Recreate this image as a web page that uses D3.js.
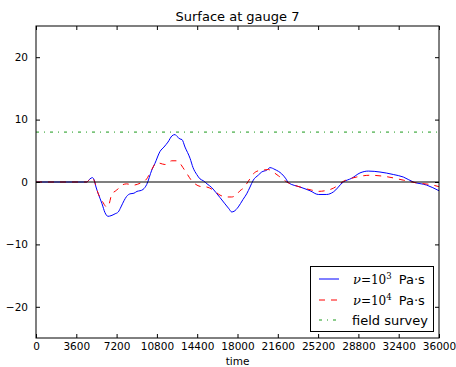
<!DOCTYPE html>
<html>
<head>
<meta charset="utf-8">
<script src="https://cdn.jsdelivr.net/npm/d3@7"></script>
<style>
  html, body { margin: 0; padding: 0; background: #fff; }
  svg { display: block; }
  text { font-family: "DejaVu Sans", sans-serif; fill: #000; }
</style>
</head>
<body>
<svg id="chart" width="456" height="367"></svg>
<script>
// Surface elevation at gauge 7 for two viscosities, plus field survey level
const xTicks = [0, 3600, 7200, 10800, 14400, 18000, 21600, 25200, 28800, 32400, 36000];
const yTicks = [-20, -10, 0, 10, 20];

const timeLow = [0, 4530, 4824, 5030, 5180, 5360, 5565, 5900, 6160, 6430, 6700, 7060, 7350, 7590, 7860, 8100,
  8400, 8750, 9020, 9290, 9560, 9890, 10340, 10630, 11080, 11430, 11790, 12150, 12420, 12600, 12860, 13040,
  13310, 13760, 14030, 14360, 14650, 14950, 15280, 15700, 16080, 16440, 16880, 17240, 17480, 17690, 18070,
  18490, 18820, 19120, 19410, 19860, 20160, 20610, 20900, 21350, 21950, 22330, 22540, 23580, 24480, 25220,
  25970, 26560, 27450, 28200, 28940, 29690, 30730, 31920, 32810, 33700, 34900, 36000];
const etaLow = [0, 0, 0.5, 0.7, 0.4, -0.8, -1.9, -3.5, -4.9, -5.5, -5.4, -5.1, -4.8, -4.0, -3.0, -2.3,
  -1.9, -1.8, -1.5, -1.4, -1.2, -0.4, 1.9, 3.0, 4.9, 5.6, 6.4, 7.4, 7.6, 7.3, 6.9, 6.8,
  5.6, 3.8, 2.3, 1.2, 0.5, 0.2, -0.3, -0.9, -1.7, -2.5, -3.5, -4.3, -4.8, -4.7, -4.0,
  -2.8, -1.9, -0.8, 0.3, 1.1, 1.6, 1.9, 2.3, 2.0, 1.3, 0.5, -0.1, -0.8, -1.4, -2.0,
  -2.0, -1.6, 0.0, 0.6, 1.45, 1.75, 1.6, 1.2, 0.8, 0.0, -0.5, -1.4];

const timeHigh = [0, 4530, 4824, 5030, 5180, 5565, 5900, 6320, 6520, 6760, 7210, 7660, 8100, 8690, 9290,
  9890, 10340, 10780, 11080, 11520, 12120, 12510, 12860, 13130, 13460, 13910, 14290, 14650, 15250, 15840,
  16440, 16970, 17480, 17930, 18220, 18520, 18960, 19410, 19860, 20280, 20750, 21090, 21650, 22400, 23580,
  24630, 25220, 25820, 26560, 27450, 28650, 29840, 31330, 32810, 34010, 35200, 36000];
const etaHigh = [0, 0, 0.5, 0.7, 0.3, -1.9, -3.0, -4.0, -3.6, -2.0, -1.3, -0.5, -0.3, -0.5, -0.2,
  0.5, 2.0, 3.1, 3.0, 2.8, 3.4, 3.4, 3.0, 2.3, 1.4, 0.2, -0.4, -0.7, -0.8, -1.3,
  -2.1, -2.4, -2.4, -2.0, -1.4, -1.0, 0.1, 1.3, 1.8, 1.9, 2.0, 1.7, 1.0, 0.0, -0.8,
  -1.3, -1.5, -1.4, -1.0, 0.1, 0.8, 1.08, 0.85, 0.3, -0.15, -0.4, -0.75];

const surveyLevel = 8;
const timeDomain = [0, 36000];
const etaDomain = [-25, 25];

const svg = d3.select("#chart");
const m = { left: 36, right: 439, top: 26, bottom: 338 };

const x = d3.scaleLinear().domain(timeDomain).range([m.left, m.right]);
const y = d3.scaleLinear().domain(etaDomain).range([m.bottom, m.top]);

svg.append("defs").append("clipPath").attr("id", "clip")
  .append("rect").attr("x", m.left).attr("y", m.top)
  .attr("width", m.right - m.left).attr("height", m.bottom - m.top);

const layer = svg.append("g").attr("clip-path", "url(#clip)");

const line = d3.line().x(d => x(d[0])).y(d => y(d[1])).curve(d3.curveMonotoneX);

layer.append("path")
  .datum(d3.zip(timeLow, etaLow))
  .attr("d", line)
  .attr("fill", "none").attr("stroke", "#0000ff").attr("stroke-width", 1);

layer.append("path")
  .datum(d3.zip(timeHigh, etaHigh))
  .attr("d", line)
  .attr("fill", "none").attr("stroke", "#ff0000").attr("stroke-width", 1)
  .attr("stroke-dasharray", "6,6");

layer.append("line")
  .attr("x1", x(timeDomain[0])).attr("x2", x(timeDomain[1]))
  .attr("y1", y(surveyLevel)).attr("y2", y(surveyLevel))
  .attr("stroke", "#1a9a1a").attr("stroke-width", 1)
  .attr("stroke-dasharray", "3,5,1,5");

// zero reference line
layer.append("line")
  .attr("x1", x(timeDomain[0])).attr("x2", x(timeDomain[1]))
  .attr("y1", y(0)).attr("y2", y(0))
  .attr("stroke", "#000").attr("stroke-opacity", 0.5).attr("stroke-width", 2);

// axes: ticks point inward on all four sides
const tickLen = 4;
const axisBottom = d3.axisBottom(x).tickValues(xTicks).tickSize(-tickLen).tickPadding(5).tickFormat(d3.format("d"));
const axisTop = d3.axisTop(x).tickValues(xTicks).tickSize(-tickLen).tickFormat("");
const axisLeft = d3.axisLeft(y).tickValues(yTicks).tickSize(-tickLen).tickPadding(8)
  .tickFormat(d => d < 0 ? "\u2212" + Math.abs(d) : String(d));
const axisRight = d3.axisRight(y).tickValues(yTicks).tickSize(-tickLen).tickFormat("");

function styleAxis(g) {
  g.select(".domain").remove();
  g.selectAll(".tick line").attr("stroke", "#000").attr("stroke-width", 1);
  g.selectAll(".tick text").attr("font-family", "DejaVu Sans, sans-serif").attr("font-size", 10.5).attr("fill", "#222");
}
svg.append("g").attr("transform", `translate(0,${m.bottom})`).call(axisBottom).call(styleAxis);
svg.append("g").attr("transform", `translate(0,${m.top})`).call(axisTop).call(styleAxis);
svg.append("g").attr("transform", `translate(${m.left},0)`).call(axisLeft).call(styleAxis);
svg.append("g").attr("transform", `translate(${m.right},0)`).call(axisRight).call(styleAxis);

svg.append("rect")
  .attr("x", m.left).attr("y", m.top).attr("width", m.right - m.left).attr("height", m.bottom - m.top)
  .attr("fill", "none").attr("stroke", "#000").attr("stroke-width", 1);

svg.append("text")
  .attr("x", (m.left + m.right) / 2).attr("y", 21)
  .attr("text-anchor", "middle").attr("font-size", 13).attr("fill", "#222")
  .text("Surface at gauge 7");

svg.append("text")
  .attr("x", (m.left + m.right) / 2).attr("y", 365)
  .attr("text-anchor", "middle").attr("font-size", 10.5).attr("fill", "#222")
  .text("time");

// legend
const lg = svg.append("g");
lg.append("rect").attr("x", 310.5).attr("y", 266.5).attr("width", 123).attr("height", 65)
  .attr("fill", "#fff").attr("stroke", "#000").attr("stroke-width", 1);

const entries = [
  { color: "#0000ff", dash: null, exp: "3", cy: 279 },
  { color: "#ff0000", dash: "6,6", exp: "4", cy: 300 },
  { color: "#1a9a1a", dash: "3,5,1,5", exp: null, cy: 320 }
];
entries.forEach(e => {
  lg.append("line").attr("x1", 319).attr("x2", 339).attr("y1", e.cy).attr("y2", e.cy)
    .attr("stroke", e.color).attr("stroke-width", 1).attr("stroke-dasharray", e.dash);
  if (e.exp) {
    const t = lg.append("text").attr("x", 353).attr("y", e.cy + 4.5).attr("font-size", 13);
    t.append("tspan").attr("font-family", "DejaVu Serif, serif").attr("font-style", "italic").text("\u03bd");
    t.append("tspan").attr("font-family", "DejaVu Serif, serif").attr("font-size", 12).text("=10");
    t.append("tspan").attr("font-family", "DejaVu Serif, serif").attr("font-size", 8.5).attr("dy", -5).text(e.exp);
    t.append("tspan").attr("dy", 5).attr("dx", 7).text("Pa\u00b7s");
  } else {
    lg.append("text").attr("x", 352).attr("y", e.cy + 4.5).attr("font-size", 13).text("field survey");
  }
});
</script>
</body>
</html>
